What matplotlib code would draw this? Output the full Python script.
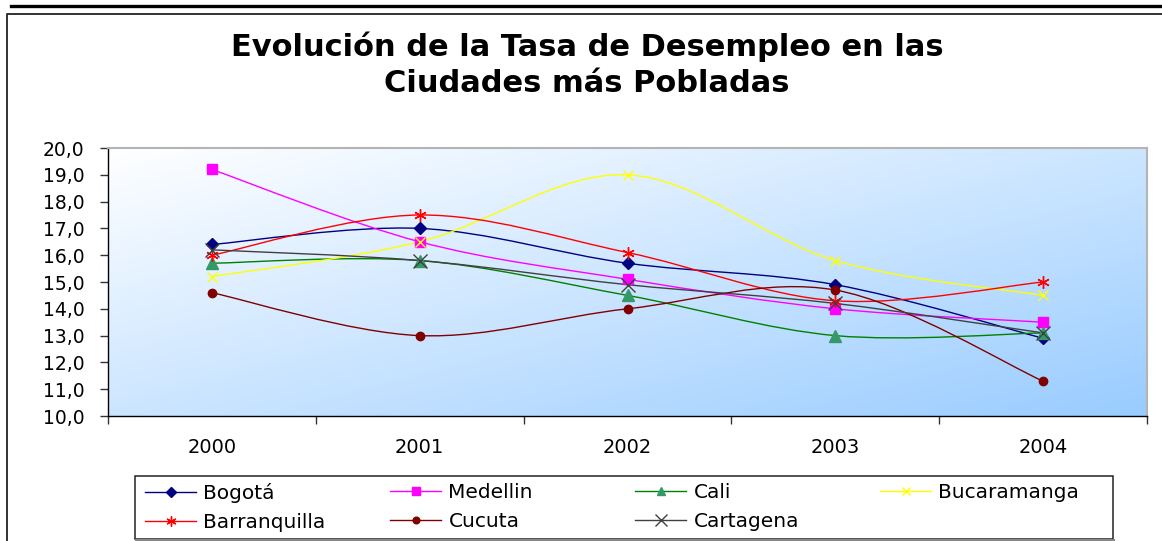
import numpy as np
import matplotlib
matplotlib.use('Agg')
import matplotlib.pyplot as plt
from matplotlib.path import Path
from matplotlib.patches import PathPatch, Rectangle
from matplotlib.lines import Line2D
from matplotlib.ticker import FuncFormatter

# the original text is wide, DejaVu Sans is the closest in proportions
plt.rcParams['font.family'] = ['DejaVu Sans']

# data
years = ['2000', '2001', '2002', '2003', '2004']
bogota = [16.4, 17.0, 15.7, 14.9, 12.9]
medellin = [19.2, 16.5, 15.1, 14.0, 13.5]
cali = [15.7, 15.8, 14.5, 13.0, 13.1]
bucaramanga = [15.2, 16.5, 19.0, 15.8, 14.5]
barranquilla = [16.0, 17.5, 16.1, 14.3, 15.0]
cucuta = [14.6, 13.0, 14.0, 14.7, 11.3]
cartagena = [16.2, 15.8, 14.9, 14.2, 13.1]

# name, values, line colour, marker, marker colour, marker size
series = [
    ('Bogotá', bogota, '#000080', 'D', '#000080', 6),
    ('Medellin', medellin, '#FF00FF', 's', '#FF00FF', 7),
    ('Cali', cali, '#008000', '^', '#339966', 8),
    ('Bucaramanga', bucaramanga, '#FFFF00', 'x', '#FFFF00', 7),
    ('Barranquilla', barranquilla, '#FF0000', (6, 2, 0), '#FF0000', 9),
    ('Cucuta', cucuta, '#800000', 'o', '#800000', 6),
    ('Cartagena', cartagena, '#404040', 'x', '#404040', 10),
]


def smooth_path(xs, ys):
    # excel style smoothed line: bezier segments through the points
    pts = np.column_stack([xs, ys]).astype(float)
    n = len(pts)
    verts = [pts[0]]
    codes = [Path.MOVETO]
    for i in range(n - 1):
        p0 = pts[max(i - 1, 0)]
        p1 = pts[i]
        p2 = pts[i + 1]
        p3 = pts[min(i + 2, n - 1)]
        c1 = p1 + (p2 - p0) / 6.0
        c2 = p2 - (p3 - p1) / 6.0
        verts += [c1, c2, p2]
        codes += [Path.CURVE4] * 3
    return Path(verts, codes)


W, H = 1162, 541
fig = plt.figure(figsize=(W / 100, H / 100), dpi=100)
ax = fig.add_axes([108 / W, 125 / H, 1039 / W, 268 / H])

# gradient background: white top-left to light blue bottom-right
gx, gy = np.meshgrid(np.linspace(0, 1, 300), np.linspace(0, 1, 150))
t = (gx + gy) / 2.0
c0 = np.array([255, 255, 255]) / 255.0
c1 = np.array([153, 204, 255]) / 255.0
img = c0[None, None, :] * (1 - t[..., None]) + c1[None, None, :] * t[..., None]
ax.imshow(img, extent=[0, 1, 0, 1], transform=ax.transAxes, aspect='auto',
          origin='upper', zorder=0, interpolation='bilinear')

x = np.arange(len(years))
handles = []
for name, vals, lc, mk, mc, ms in series:
    ax.add_patch(PathPatch(smooth_path(x, vals), fill=False, edgecolor=lc,
                           lw=1.0, zorder=2))
    ax.plot(x, vals, linestyle='none', marker=mk, color=mc, markersize=ms,
            markeredgewidth=1.0, zorder=3)
    handles.append(Line2D([], [], color=lc, lw=1.0, marker=mk, markerfacecolor=mc,
                          markeredgecolor=mc, markersize=ms * 0.8, label=name))

ax.set_xlim(-0.5, len(years) - 0.5)
ax.set_ylim(10, 20)
ax.set_yticks(np.arange(10, 20.5, 1))
ax.yaxis.set_major_formatter(FuncFormatter(lambda v, p: ('%.1f' % v).replace('.', ',')))
ax.tick_params(axis='y', direction='out', length=6, width=1, pad=11, labelsize=13.5,
               color='#333333')

ax.set_xticks(np.arange(-0.5, len(years), 1))
ax.set_xticklabels([])
ax.set_xticks(x, minor=True)
ax.set_xticklabels(years, minor=True)
ax.tick_params(axis='x', which='major', direction='out', length=6, width=1, color='#333333')
ax.tick_params(axis='x', which='minor', length=0, pad=16, labelsize=14)

for s in ['left', 'bottom']:
    ax.spines[s].set_color('black')
    ax.spines[s].set_linewidth(1.0)
for s in ['top', 'right']:
    ax.spines[s].set_color('#b4b4b4')
    ax.spines[s].set_linewidth(1.5)

fig.text(587 / W, 1 - 65 / H,
         'Evolución de la Tasa de Desempleo en las\nCiudades más Pobladas',
         ha='center', va='center', fontsize=22, fontweight='bold', linespacing=1.3)

# outer frame lines of the page / chart area
fig.add_artist(Line2D([11 / W, 1], [1 - 6 / H, 1 - 6 / H], color='black',
                      lw=2.4, transform=fig.transFigure))
fig.add_artist(Line2D([7 / W, 7 / W, 1], [0, 1 - 14 / H, 1 - 14 / H],
                      color='#222222', lw=1.3, transform=fig.transFigure))

# legend: frame box plus four equally spaced columns (filled row-wise)
fig.add_artist(Rectangle((135 / W, 1 - 539 / H), 978 / W, 63 / H, transform=fig.transFigure,
                         facecolor='white', edgecolor='#222222', lw=1.1, zorder=4))
fig.add_artist(Line2D([136 / W, 1114 / W], [1 - 540 / H, 1 - 540 / H], color='#888888',
                      lw=1.5, transform=fig.transFigure, zorder=4))
columns = [[0, 4], [1, 5], [2, 6], [3]]
col_x = [145, 390, 635, 880]
for cx, idx in zip(col_x, columns):
    leg = fig.legend([handles[i] for i in idx], [handles[i].get_label() for i in idx],
                     loc='upper left', bbox_to_anchor=(cx / W, 1 - 483 / H),
                     bbox_transform=fig.transFigure, borderaxespad=0, borderpad=0,
                     fontsize=14.5, handlelength=2.55, handletextpad=0.35,
                     labelspacing=0.5, frameon=False)
    leg.set_zorder(5)

fig.savefig('out.png', dpi=100)
